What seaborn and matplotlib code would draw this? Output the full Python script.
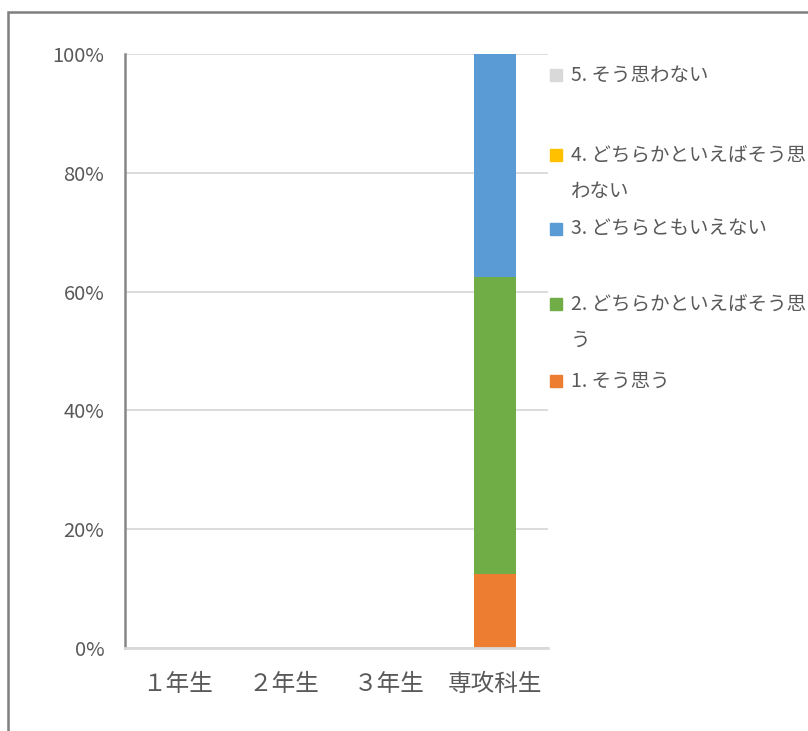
import numpy as np
import pandas as pd
import matplotlib
matplotlib.use("Agg")
import matplotlib.pyplot as plt
from matplotlib.patches import Rectangle
import seaborn as sns

# data (percent of answers per group)
groups = ["１年生", "２年生", "３年生", "専攻科生"]
answers = ["1. そう思う", "2. どちらかといえばそう思う", "3. どちらともいえない",
           "4. どちらかといえばそう思わない", "5. そう思わない"]
# legend lines as wrapped in the picture
legend_lines = [["1. そう思う"], ["2. どちらかといえばそう思", "う"], ["3. どちらともいえない"],
                ["4. どちらかといえばそう思", "わない"], ["5. そう思わない"]]
colors = ["#ED7D31", "#70AD47", "#5B9BD5", "#FFC000", "#D9D9D9"]
ans1 = [0, 0, 0, 12.5]
ans2 = [0, 0, 0, 50.0]
ans3 = [0, 0, 0, 37.5]
ans4 = [0, 0, 0, 0]
ans5 = [0, 0, 0, 0]

sns.set_theme(style="white")
plt.rcParams['font.family'] = ['Noto Sans CJK JP', 'DejaVu Sans']
TXT = "#595959"

df = pd.DataFrame({"group": groups, answers[0]: ans1, answers[1]: ans2,
                   answers[2]: ans3, answers[3]: ans4, answers[4]: ans5})
cum = df[answers].cumsum(axis=1)

fig = plt.figure(figsize=(8.08, 7.31), dpi=100)
ax = fig.add_axes([125 / 808, 1 - 648 / 731, 423 / 808, 594 / 731])

# stacked bars: draw tallest cumulative first, then overlay lower ones
for ans, col in reversed(list(zip(answers, colors))):
    sns.barplot(x=df["group"], y=cum[ans], color=col, width=0.4,
                saturation=1, linewidth=0, ax=ax, order=groups)

ax.set_ylim(0, 100)
ax.set_yticks([0, 20, 40, 60, 80, 100])
ax.set_yticklabels([f"{v}%" for v in [0, 20, 40, 60, 80, 100]])
ax.yaxis.grid(True, color="#D9D9D9", linewidth=1.3)
ax.set_axisbelow(True)
ax.set_xlabel("")
ax.set_ylabel("")
ax.tick_params(axis="y", length=0, pad=15, labelsize=14.5, labelcolor=TXT)
ax.tick_params(axis="x", length=0, pad=18, labelsize=17, labelcolor=TXT)
for s in ["top", "right"]:
    ax.spines[s].set_visible(False)
ax.spines["left"].set_color("#868686")
ax.spines["left"].set_linewidth(1.8)
ax.spines["bottom"].set_color("#D9D9D9")
ax.spines["bottom"].set_linewidth(2)

# legend drawn to match the Excel layout (reverse order, wrapped labels)
W, H = 808, 731
first_y = {4: 75, 3: 155, 2: 229, 1: 304, 0: 381}
for i, lines in enumerate(legend_lines):
    y = first_y[i]
    fig.patches.append(Rectangle(((550) / W, 1 - (y + 6) / H), 12 / W, 12 / H,
                                 transform=fig.transFigure, color=colors[i]))
    for j, line in enumerate(lines):
        fig.text(571 / W, 1 - (y + 36 * j) / H, line, fontsize=14,
                 color=TXT, va="center", ha="left")

# outer chart frame (partly cut off in the reference)
fig.patches.append(Rectangle((7.5 / W, -0.1), 1.2, 1.1 - 12.5 / H,
                             transform=fig.transFigure, fill=False,
                             edgecolor="#7F7F7F", linewidth=1.8))

fig.savefig("out.png", dpi=100)
